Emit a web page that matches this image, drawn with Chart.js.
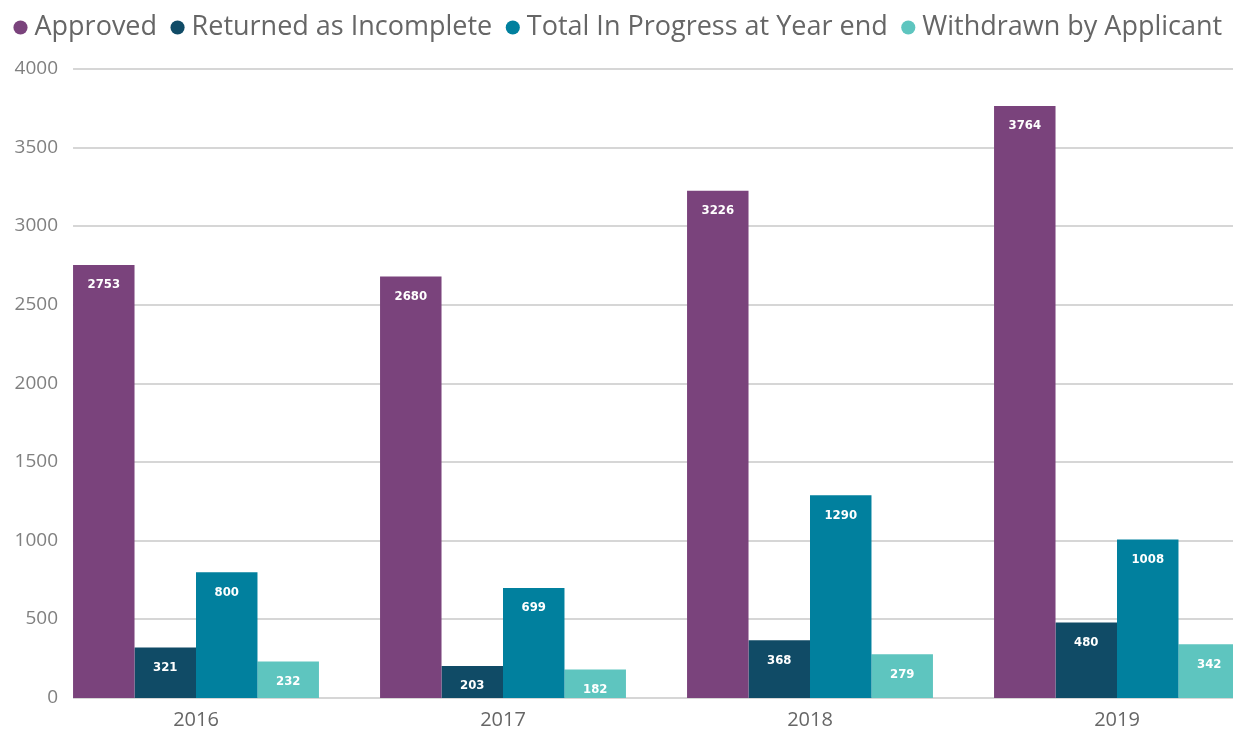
<!DOCTYPE html>
<html>
<head>
<meta charset="utf-8">
<script src="https://cdn.jsdelivr.net/npm/chart.js@4.4.0/dist/chart.umd.min.js"></script>
<style>
  html, body { margin: 0; padding: 0; background: #fff; overflow: hidden; }
  #wrap { width: 1233px; height: 729px; overflow: hidden; }
</style>
</head>
<body>
<div id="wrap"><canvas id="chart" width="1280" height="729"></canvas></div>
<script>
const years = ['2016', '2017', '2018', '2019'];
const approved = [2753, 2680, 3226, 3764];
const returnedIncomplete = [321, 203, 368, 480];
const inProgress = [800, 699, 1290, 1008];
const withdrawn = [232, 182, 279, 342];
const yTicks = [0, 500, 1000, 1500, 2000, 2500, 3000, 3500, 4000];

// extra room under the legend
const legendGap = {
    id: 'legendGap',
    beforeInit(chart) {
        const fit = chart.legend.fit;
        chart.legend.fit = function () {
            fit.bind(chart.legend)();
            this.height += 18;
        };
    }
};

// gridlines start at the left edge of the first bar, y labels left of them
const gridFromBars = {
    id: 'gridFromBars',
    beforeDatasetsDraw(chart) {
        const ctx = chart.ctx;
        const y = chart.scales.y;
        const first = chart.getDatasetMeta(0).data[0];
        const x0 = first.x - first.width / 2;
        ctx.save();
        ctx.strokeStyle = '#d6d6d6';
        ctx.lineWidth = 2;
        ctx.fillStyle = '#808080';
        ctx.font = '19px "Open Sans", sans-serif';
        ctx.textAlign = 'right';
        ctx.textBaseline = 'middle';
        yTicks.forEach(v => {
            const py = Math.round(y.getPixelForValue(v));
            ctx.beginPath();
            ctx.moveTo(x0, py);
            ctx.lineTo(chart.chartArea.right, py);
            ctx.stroke();
            ctx.fillText(String(v), x0 - 15, py);
        });
        ctx.restore();
    }
};

// white value labels inside the top of each bar
const barLabels = {
    id: 'barLabels',
    afterDatasetsDraw(chart) {
        const ctx = chart.ctx;
        ctx.save();
        ctx.fillStyle = '#ffffff';
        ctx.font = 'bold 13px "DejaVu Sans Condensed", Roboto, sans-serif';
        ctx.textAlign = 'center';
        ctx.textBaseline = 'middle';
        chart.data.datasets.forEach((ds, i) => {
            chart.getDatasetMeta(i).data.forEach((bar, j) => {
                ctx.fillText(ds.data[j], bar.x, bar.y + 20);
            });
        });
        ctx.restore();
    }
};

const ctx = document.querySelector('#chart').getContext('2d');

const myChart = new Chart(ctx, {
    type: 'bar',
    data: {
        labels: years,
        datasets: [
            { label: 'Approved', data: approved, backgroundColor: '#7a437c' },
            { label: 'Returned as Incomplete', data: returnedIncomplete, backgroundColor: '#104b66' },
            { label: 'Total In Progress at Year end', data: inProgress, backgroundColor: '#01809e' },
            { label: 'Withdrawn by Applicant', data: withdrawn, backgroundColor: '#5ec5bf' }
        ]
    },
    options: {
        responsive: false,
        animation: false,
        layout: { padding: { left: 0, right: 9.5, top: -6, bottom: 0 } },
        datasets: {
            bar: { categoryPercentage: 0.801, barPercentage: 1.0 }
        },
        plugins: {
            legend: {
                align: 'start',
                labels: {
                    usePointStyle: true,
                    pointStyle: 'circle',
                    boxWidth: 1,
                    boxHeight: 10,
                    padding: 20,
                    color: '#666666',
                    font: { family: '"Open Sans", sans-serif', size: 27 }
                }
            },
            tooltip: { enabled: false }
        },
        scales: {
            x: {
                grid: { display: false, drawTicks: false },
                border: { display: false },
                ticks: {
                    color: '#666666',
                    padding: 10,
                    font: { family: '"Open Sans", sans-serif', size: 20 }
                },
                afterFit: s => { s.height = 31; }
            },
            y: {
                min: 0,
                max: 4000,
                grid: { display: false, drawTicks: false },
                border: { display: false },
                ticks: { display: false, stepSize: 500 },
                afterFit: s => { s.width = 42.5; }
            }
        }
    },
    plugins: [legendGap, gridFromBars, barLabels]
});
</script>
</body>
</html>
